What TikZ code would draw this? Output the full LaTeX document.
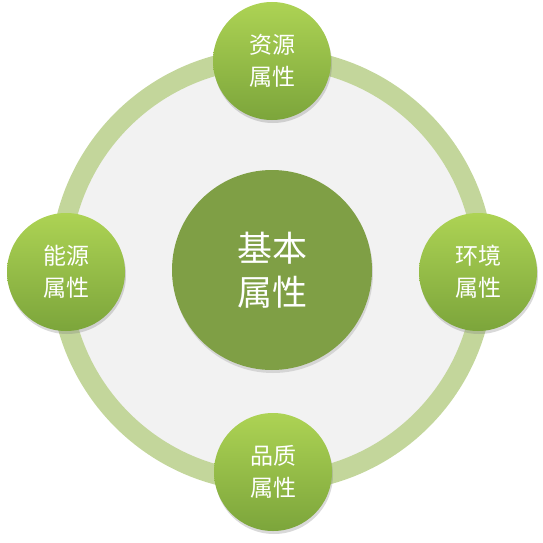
\documentclass[tikz,border=0pt]{standalone}
\usepackage{fontspec}
\newfontfamily\cjk{Noto Sans CJK SC}
\usetikzlibrary{shadows}

\definecolor{ringgreen}{HTML}{C3D69B}
\definecolor{bggray}{HTML}{F2F2F2}
\definecolor{coregreen}{HTML}{7F9F45}
\definecolor{sattop}{HTML}{ADD354}
\definecolor{satbottom}{HTML}{7CA53B}

\begin{document}
\begin{tikzpicture}[x=1pt,y=-1pt]
		\tikzstyle{ring}=[circle,draw=ringgreen,line width=20pt,fill=bggray,minimum size=424pt,inner sep=0pt]
		\tikzstyle{core}=[circle,fill=coregreen,minimum size=200pt,inner sep=0pt,text=white,align=center,
			font=\cjk\fontsize{35}{44}\selectfont,drop shadow={shadow xshift=1pt,shadow yshift=-3pt,opacity=0.25}]
		\tikzstyle{sat}=[circle,top color=sattop,bottom color=satbottom,minimum size=118pt,inner sep=0pt,text=white,align=center,
			font=\cjk\fontsize{23}{32}\selectfont,drop shadow={shadow xshift=1pt,shadow yshift=-3pt,opacity=0.3}]
		
		\useasboundingbox (0,0) rectangle (543,543);
		
		\node[ring] (ring) at (272,270) {};
		\node[core] (core) at (272,270) {基本\\属性};
		
		\node[sat] (resource) at (272,61) {资源\\属性};
		\node[sat] (energy) at (66,272) {能源\\属性};
		\node[sat] (environment) at (478,272) {环境\\属性};
		\node[sat] (quality) at (273,472) {品质\\属性};
\end{tikzpicture}
\end{document}
